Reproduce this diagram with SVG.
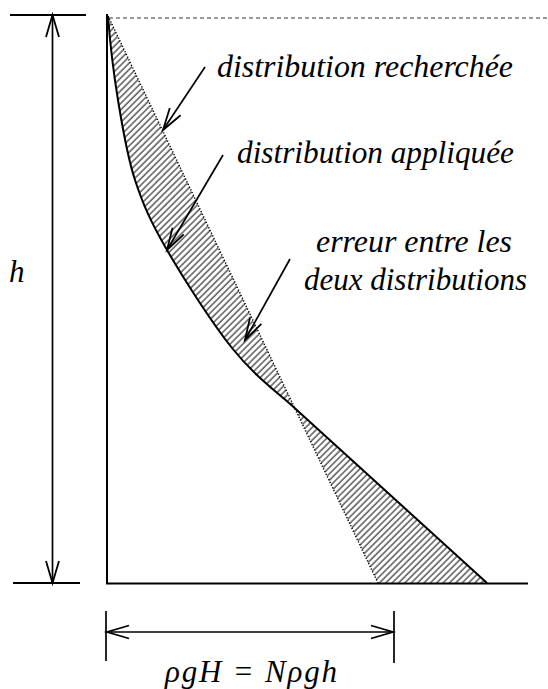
<svg xmlns="http://www.w3.org/2000/svg" width="548" height="689" viewBox="0 0 548 689">
<style>
.ln{stroke:#000;stroke-width:2;fill:none}
.dim{stroke:#000;stroke-width:1.7;fill:none}
.t{font-family:"Liberation Serif","Times New Roman",Tinos,serif;font-style:italic;font-size:31px;fill:#000}
</style>
<defs>
<pattern id="hatch" width="4.5" height="4.5" patternUnits="userSpaceOnUse" patternTransform="rotate(45)">
<rect width="4.5" height="4.5" fill="#fff"/>
<line x1="1" y1="0" x2="1" y2="4.5" stroke="#5a5a5a" stroke-width="1.5"/>
</pattern>
<marker id="arr" markerUnits="userSpaceOnUse" markerWidth="30" markerHeight="20" viewBox="-24 -10 30 20" refX="0" refY="0" orient="auto-start-reverse">
<path d="M-22,-6.5 L0,0 L-22,6.5" fill="none" stroke="#000" stroke-width="1.8"/>
</marker>
</defs>

<g id="hatched-error">
<path d="M108,16 C110,42.7 113.5,72.7 118,100 C122.5,127.3 126.8,155 135,180 C143.2,205 150.8,222 167,250 C183.2,278 211.2,321.8 232,348 C252.8,374.2 274.2,390 293.5,407 L487,583 L378,583 Z" fill="url(#hatch)" stroke="none"/>
</g>

<g id="axes">
<line x1="107" y1="14" x2="107" y2="584" class="ln"/>
<line x1="106" y1="583.5" x2="528" y2="583.5" class="ln"/>
<line x1="109" y1="18" x2="548" y2="18" stroke="#7a7a7a" stroke-width="1.4" stroke-dasharray="4,3"/>
</g>

<g id="distribution-recherchee">
<line x1="108" y1="16" x2="378" y2="583" stroke="#000" stroke-width="1.5" stroke-dasharray="1.2,1.8"/>
</g>

<g id="distribution-appliquee">
<path d="M108,16 C110,42.7 113.5,72.7 118,100 C122.5,127.3 126.8,155 135,180 C143.2,205 150.8,222 167,250 C183.2,278 211.2,321.8 232,348 C252.8,374.2 274.2,390 293.5,407 L487,583" class="ln"/>
</g>

<g id="dimension-h">
<line x1="10" y1="15" x2="86" y2="15" class="ln"/>
<line x1="13" y1="583" x2="80" y2="583" class="ln"/>
<line x1="52.5" y1="15" x2="52.5" y2="583" class="dim" marker-start="url(#arr)" marker-end="url(#arr)"/>
<text x="9" y="282" class="t">h</text>
</g>

<g id="dimension-pressure">
<line x1="106" y1="611" x2="106" y2="661" class="dim"/>
<line x1="394" y1="611" x2="394" y2="663" class="dim"/>
<line x1="107" y1="632" x2="393" y2="632" class="dim" marker-start="url(#arr)" marker-end="url(#arr)"/>
<text x="165" y="682" class="t" font-size="32" textLength="172" lengthAdjust="spacing">ρgH = Nρgh</text>
</g>

<g id="connectors">
<line x1="205" y1="67" x2="163" y2="130" class="dim" marker-end="url(#arr)"/>
<line x1="223" y1="155" x2="167" y2="250" class="dim" marker-end="url(#arr)"/>
<line x1="290" y1="259" x2="245" y2="340" class="dim" marker-end="url(#arr)"/>
</g>

<g id="labels">
<text x="217" y="77" class="t" textLength="296" lengthAdjust="spacingAndGlyphs">distribution recherchée</text>
<text x="237" y="163" class="t" textLength="277" lengthAdjust="spacingAndGlyphs">distribution appliquée</text>
<text x="316" y="252" class="t" textLength="196" lengthAdjust="spacingAndGlyphs">erreur entre les</text>
<text x="304" y="290" class="t" textLength="223" lengthAdjust="spacingAndGlyphs">deux distributions</text>
</g>
</svg>
